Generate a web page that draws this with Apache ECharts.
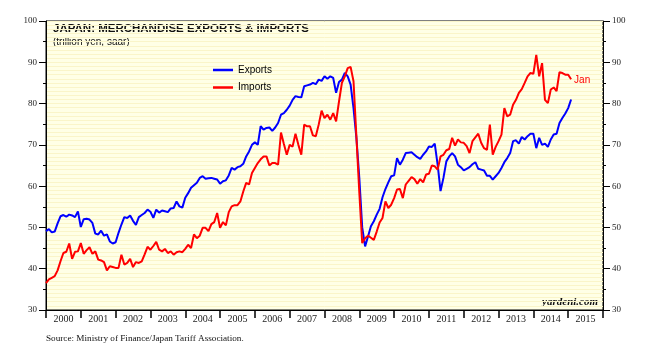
<!DOCTYPE html>
<html>
<head>
<meta charset="utf-8">
<script src="https://cdn.jsdelivr.net/npm/echarts@6/dist/echarts.min.js"></script>
<style>html,body{margin:0;padding:0;background:#fff}#c{width:654px;height:361px}</style>
</head>
<body>
<div id="c"></div>
<script>
// Monthly values (trillion yen, saar), month-end positions starting at 2000.0
const startYear = 2000;
const years = ['2000','2001','2002','2003','2004','2005','2006','2007','2008','2009','2010','2011','2012','2013','2014','2015'];
const yTicks = [30, 40, 50, 60, 70, 80, 90, 100];
const exportsData = [
  49.1, 49.6, 48.8, 49.0, 51.0, 52.7, 53.0, 52.6, 53.1, 52.9, 52.5, 53.9,
  50.1, 52.0, 52.1, 51.9, 51.1, 48.5, 48.3, 49.2, 48.0, 48.3, 46.6, 46.1,
  46.4, 48.7, 50.7, 52.5, 52.3, 52.9, 51.6, 50.6, 52.5, 53.0, 53.5, 54.3,
  53.8, 52.3, 54.3, 53.6, 54.1, 53.9, 53.7, 54.6, 54.7, 56.3, 55.1, 54.8,
  57.2, 58.3, 59.6, 60.2, 60.8, 62.0, 62.4, 61.8, 61.9, 62.0, 61.8, 61.6,
  60.6, 61.2, 61.4, 62.6, 64.4, 64.0, 64.6, 64.8, 65.4, 67.2, 68.4, 70.0,
  70.6, 70.0, 74.5, 73.7, 74.1, 74.2, 73.4, 74.2, 75.3, 77.3, 77.7, 78.5,
  79.5, 80.9, 81.8, 81.6, 81.5, 84.2, 84.4, 84.6, 85.0, 84.7, 85.8, 85.5,
  86.6, 86.0, 86.6, 86.2, 82.6, 85.2, 85.8, 87.4, 86.6, 84.6, 78.9, 71.7,
  62.0, 50.0, 45.4, 47.8, 50.3, 51.5, 53.1, 54.5, 57.3, 59.3, 60.9, 62.4,
  62.6, 66.8, 65.2, 66.4, 68.0, 68.1, 68.2, 67.6, 67.0, 66.6, 67.6, 68.4,
  69.6, 69.5, 70.3, 65.2, 58.8, 62.0, 66.0, 67.2, 68.0, 67.2, 65.2, 64.6,
  63.8, 64.2, 64.6, 65.3, 65.8, 64.2, 64.0, 63.8, 62.5, 62.5, 61.6, 62.4,
  63.2, 64.4, 65.8, 66.8, 68.0, 70.9, 71.1, 70.3, 71.9, 71.3, 72.1, 72.7,
  72.7, 69.2, 71.7, 70.0, 70.3, 69.5, 71.3, 72.5, 72.7, 75.3, 76.5, 77.6,
  78.9, 81.0
];
const importsData = [
  36.5, 37.4, 37.8, 38.2, 39.6, 41.8, 43.8, 44.1, 46.1, 42.4, 44.1, 44.2,
  46.2, 43.6, 44.5, 45.2, 43.6, 44.2, 42.2, 42.0, 41.6, 39.6, 40.6, 40.4,
  40.2, 40.2, 43.4, 41.0, 41.4, 42.4, 40.4, 41.6, 41.4, 41.8, 43.5, 45.3,
  44.6, 45.5, 46.5, 44.6, 44.2, 44.8, 43.8, 44.2, 43.4, 44.0, 44.2, 44.0,
  44.8, 45.8, 45.0, 48.3, 47.4, 48.0, 49.9, 49.9, 49.1, 50.8, 51.3, 53.5,
  49.9, 51.3, 50.5, 53.7, 55.1, 55.4, 55.4, 56.3, 58.7, 60.8, 60.4, 63.2,
  64.4, 65.6, 66.5, 67.2, 67.2, 65.0, 65.6, 65.6, 65.2, 73.0, 70.2, 67.6,
  70.0, 69.6, 72.7, 70.0, 67.6, 74.9, 74.5, 74.5, 72.3, 72.1, 74.9, 78.3,
  76.5, 77.3, 76.1, 77.7, 75.7, 80.5, 85.0, 86.6, 88.6, 88.9, 85.4, 72.0,
  58.5, 46.2, 47.4, 48.0, 47.5, 47.0, 49.0, 51.2, 52.3, 56.3, 54.7, 55.5,
  57.1, 59.2, 59.3, 57.1, 60.4, 61.3, 62.2, 61.7, 60.6, 61.7, 60.9, 62.8,
  63.0, 65.0, 64.8, 64.0, 67.2, 67.6, 68.7, 69.0, 71.7, 69.8, 71.3, 70.6,
  70.5, 69.7, 68.0, 70.9, 71.8, 72.7, 70.5, 69.2, 68.8, 74.9, 67.6, 69.5,
  70.9, 72.5, 78.9, 76.9, 77.3, 79.7, 80.9, 82.6, 83.5, 85.0, 86.6, 87.4,
  87.2, 91.8, 86.6, 89.8, 80.9, 80.1, 83.4, 83.9, 83.0, 87.6, 87.4, 87.0,
  87.0, 85.9
];

const toPts = arr => arr.map((v, k) => [startYear + k / 12, v]);
const serif = 'Liberation Serif, Times New Roman, serif';
const sans = 'Liberation Sans, Arial, Helvetica, sans-serif';

const chart = echarts.init(document.getElementById('c'));
const yBase = {
  type: 'value', min: yTicks[0], max: yTicks[yTicks.length - 1], interval: 10,
  axisLine: { show: true, lineStyle: { color: '#000', width: 1 } },
  axisTick: { show: true, length: 7, lineStyle: { color: '#000' } },
  minorTick: { show: true, splitNumber: 2, length: 3, lineStyle: { color: '#000' } },
  axisLabel: { fontFamily: serif, fontSize: 9, color: '#222', margin: 9 },
  splitLine: { show: false }
};
chart.setOption({
  animation: false,
  backgroundColor: '#fff',
  grid: { left: 46, right: 51, top: 21, bottom: 51, show: true, backgroundColor: '#FFFFE6', borderColor: '#000', borderWidth: 1 },
  xAxis: [
    {
      type: 'category', data: years, boundaryGap: true,
      axisLine: { lineStyle: { color: '#000' } },
      axisTick: { show: true, length: 8, interval: 0, lineStyle: { color: '#000', width: 1.5 } },
      axisLabel: { fontFamily: serif, fontSize: 10, color: '#222', margin: 4, interval: 0 }
    },
    { type: 'value', min: startYear, max: startYear + years.length, show: false }
  ],
  yAxis: [
    Object.assign({}, yBase, { position: 'left' }),
    Object.assign({}, yBase, { position: 'right' }),
    {
      type: 'value', min: 30, max: 100, interval: 1, position: 'left',
      axisLine: { show: false }, axisTick: { show: false }, axisLabel: { show: false },
      splitLine: { show: true, lineStyle: { color: '#FAF5C9', width: 1 } }
    }
  ],
  legend: [
    { data: ['Exports'], left: 213, top: 64, padding: 0, icon: 'rect', itemWidth: 20, itemHeight: 2.5, selectedMode: false,
      textStyle: { fontFamily: sans, fontSize: 10, color: '#000', lineHeight: 12 } },
    { data: ['Imports'], left: 213, top: 81.5, padding: 0, icon: 'rect', itemWidth: 20, itemHeight: 2.5, selectedMode: false,
      textStyle: { fontFamily: sans, fontSize: 10, color: '#000', lineHeight: 12 } }
  ],
  graphic: [
    { type: 'text', left: 53, top: 23, style: { text: 'JAPAN: MERCHANDISE EXPORTS & IMPORTS', font: 'bold 11.5px ' + sans, fill: '#111' } },
    { type: 'text', left: 53, top: 37, style: { text: '(trillion yen, saar)', font: '10px ' + sans, fill: '#111' } },
    { type: 'text', right: 56, top: 297, style: { text: 'yardeni.com', font: 'italic bold 11px ' + serif, fill: '#111' } },
    { type: 'text', left: 46, top: 334, style: { text: 'Source: Ministry of Finance/Japan Tariff Association.', font: '9.2px ' + serif, fill: '#111' } }
  ],
  series: [
    { name: 'Exports', type: 'line', xAxisIndex: 1, yAxisIndex: 0, data: toPts(exportsData), showSymbol: false,
      lineStyle: { color: '#0000FF', width: 2 }, itemStyle: { color: '#0000FF' } },
    { name: 'Imports', type: 'line', xAxisIndex: 1, yAxisIndex: 0, data: toPts(importsData), showSymbol: false,
      lineStyle: { color: '#FF0000', width: 2 }, itemStyle: { color: '#FF0000' },
      endLabel: { show: true, formatter: 'Jan', color: '#FF0000', fontFamily: sans, fontSize: 10, distance: 3, offset: [0, 1.5] } }
  ]
});
</script>
</body>
</html>
